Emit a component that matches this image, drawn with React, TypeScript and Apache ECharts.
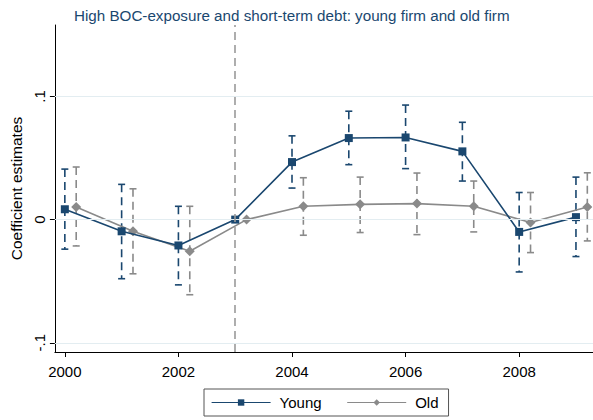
import React, { useEffect, useRef } from "react";
import * as echarts from "echarts";

const years = [2000, 2001, 2002, 2003, 2004, 2005, 2006, 2007, 2008, 2009];
const youngCoef = [0.0084, -0.0095, -0.021, 0, 0.0467, 0.0662, 0.0667, 0.0554, -0.01, 0.002];
const youngLow = [-0.024, -0.048, -0.053, null, 0.0256, 0.0446, 0.0414, 0.0313, -0.0425, -0.03];
const youngHigh = [0.041, 0.0286, 0.0108, null, 0.068, 0.088, 0.093, 0.079, 0.022, 0.0345];
const oldCoef = [0.0102, -0.0095, -0.0257, 0, 0.0108, 0.0124, 0.013, 0.0108, -0.0024, 0.0102];
const oldLow = [-0.0214, -0.044, -0.061, null, -0.0127, -0.0105, -0.0122, -0.01, -0.0268, -0.0173];
const oldHigh = [0.0427, 0.025, 0.0108, null, 0.034, 0.0345, 0.0378, 0.0313, 0.022, 0.038];
const oldOffset = 0.2;
const eventYear = 2003;
const xTicks = [2000, 2002, 2004, 2006, 2008];
const yTicks = [-0.1, 0, 0.1];
const yTickLabels = ["-.1", "0", ".1"];

const YOUNG = "#1a476f";
const OLD = "#8a8a8a";
const FONT = "Liberation Sans, Arial, sans-serif";

function ciData(coef: number[], low: (number | null)[], high: (number | null)[], off: number) {
  const out: any[] = [];
  coef.forEach((_, i) => {
    if (low[i] != null && high[i] != null) out.push([years[i] + off, low[i], high[i]]);
  });
  return out;
}

function ciSeries(name: string, data: any[], color: string) {
  return {
    type: "custom",
    name,
    z: 1,
    data,
    renderItem: (params: any, api: any) => {
      const x = api.value(0);
      const lo = api.coord([x, api.value(1)]);
      const hi = api.coord([x, api.value(2)]);
      const cw = 3.5;
      return {
        type: "group",
        children: [
          {
            type: "line",
            shape: { x1: hi[0], y1: hi[1], x2: lo[0], y2: lo[1] },
            style: { stroke: color, lineWidth: 1.6, lineDash: [8, 5] },
          },
          {
            type: "line",
            shape: { x1: hi[0] - cw, y1: hi[1], x2: hi[0] + cw, y2: hi[1] },
            style: { stroke: color, lineWidth: 1.6 },
          },
          {
            type: "line",
            shape: { x1: lo[0] - cw, y1: lo[1], x2: lo[0] + cw, y2: lo[1] },
            style: { stroke: color, lineWidth: 1.6 },
          },
        ],
      };
    },
  };
}

export default function App() {
  const ref = useRef<HTMLDivElement>(null);
  useEffect(() => {
    if (!ref.current) return;
    const chart = echarts.init(ref.current, null, { renderer: "svg" });
    const option: any = {
      animation: false,
      backgroundColor: "#ffffff",
      textStyle: { fontFamily: FONT },
      title: {
        text: "High BOC-exposure and short-term debt: young firm and old firm",
        left: 69,
        top: 3,
        textStyle: { fontFamily: FONT, fontSize: 15.2, fontWeight: "normal", color: YOUNG },
      },
      legend: {
        data: ["Young", "Old"],
        left: 204,
        top: 389,
        itemWidth: 59,
        itemHeight: 8,
        itemGap: 25,
        padding: [6, 10, 6, 7],
        borderColor: "#555",
        borderWidth: 1,
        lineStyle: { width: 1.2 },
        textStyle: { fontFamily: FONT, fontSize: 15, color: "#000", padding: [0, 0, 0, 4] },
      },
      grid: { left: 53, right: 0, top: 25, bottom: 68, containLabel: false },
      xAxis: {
        type: "value",
        min: 1999.825,
        max: 2009.3,
        axisLine: { show: true, onZero: false, lineStyle: { color: "#000", width: 1 } },
        axisTick: { show: true, customValues: xTicks, length: 5, lineStyle: { color: "#000" } },
        axisLabel: {
          customValues: xTicks,
          margin: 12,
          fontFamily: FONT,
          fontSize: 15,
          color: "#000",
          formatter: (v: number) => String(Math.round(v)),
        },
        splitLine: { show: false },
      },
      yAxis: {
        type: "value",
        min: -0.1075,
        max: 0.158,
        name: "Coefficient estimates",
        nameLocation: "middle",
        nameGap: 29,
        nameRotate: 90,
        nameTextStyle: { fontFamily: FONT, fontSize: 15.5, color: "#000" },
        axisLine: { show: true, onZero: false, lineStyle: { color: "#000", width: 1 } },
        axisTick: { show: true, customValues: yTicks, length: 5, lineStyle: { color: "#000" } },
        axisLabel: {
          customValues: yTicks,
          rotate: 90,
          margin: 8,
          fontFamily: FONT,
          fontSize: 15,
          color: "#000",
          formatter: (v: number) => {
            const i = yTicks.findIndex((t) => Math.abs(t - v) < 1e-9);
            return i >= 0 ? yTickLabels[i] : "";
          },
        },
        splitLine: { show: false },
      },
      series: [
        {
          type: "line",
          name: "gridlines",
          data: [],
          silent: true,
          markLine: {
            silent: true,
            symbol: "none",
            label: { show: false },
            lineStyle: { color: "#e3edf1", type: "solid", width: 1.2 },
            data: yTicks.map((t) => ({ yAxis: t })),
          },
          z: 0,
        },
        {
          type: "line",
          name: "event",
          data: [],
          silent: true,
          markLine: {
            silent: true,
            symbol: "none",
            label: { show: false },
            lineStyle: { color: "#9a9a9a", type: [8, 5], width: 1.6 },
            data: [{ xAxis: eventYear }],
          },
          z: 1,
        },
        ciSeries("Young CI", ciData(youngCoef, youngLow, youngHigh, 0), YOUNG),
        ciSeries("Old CI", ciData(oldCoef, oldLow, oldHigh, oldOffset), OLD),
        {
          type: "line",
          name: "Old",
          data: oldCoef.map((v, i) => [years[i] + oldOffset, v]),
          symbol: "diamond",
          symbolSize: 10,
          color: OLD,
          lineStyle: { color: OLD, width: 1.6 },
          itemStyle: { color: OLD },
          z: 3,
        },
        {
          type: "line",
          name: "Young",
          data: youngCoef.map((v, i) => [years[i], v]),
          symbol: "rect",
          symbolSize: 8,
          color: YOUNG,
          lineStyle: { color: YOUNG, width: 1.6 },
          itemStyle: { color: YOUNG },
          z: 4,
        },
      ],
    };
    chart.setOption(option);
    return () => chart.dispose();
  }, []);
  return (
    <div
      ref={ref}
      style={{ position: "fixed", left: 0, top: 0, width: 593, height: 420, background: "#fff" }}
    />
  );
}
